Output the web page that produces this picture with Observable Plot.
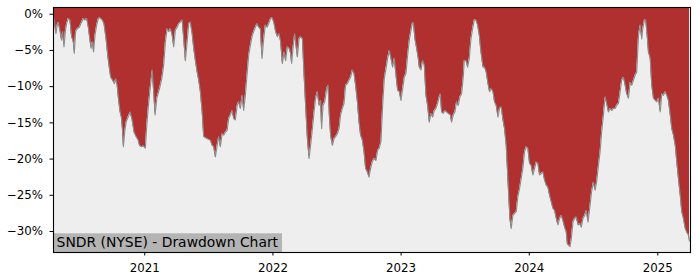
<!DOCTYPE html>
<html><head><meta charset="utf-8">
<script src="https://cdn.jsdelivr.net/npm/d3@7"></script>
<script src="https://cdn.jsdelivr.net/npm/@observablehq/plot@0.6"></script>
<style>
html,body{margin:0;padding:0;background:#fff;}
#chart{width:700px;height:280px;}
</style></head><body><div id="chart"></div>
<script>
// decimal years (date) and drawdown in percent
const years = [
2020.294,2020.309,2020.319,2020.327,2020.340,2020.353,2020.361,2020.372,2020.382,2020.392,
2020.405,2020.418,2020.431,2020.444,2020.452,2020.462,2020.475,2020.491,2020.509,2020.522,
2020.535,2020.548,2020.561,2020.574,2020.582,2020.592,2020.602,2020.613,2020.626,2020.639,
2020.652,2020.670,2020.683,2020.699,2020.712,2020.725,2020.735,2020.750,2020.764,2020.774,
2020.785,2020.795,2020.808,2020.818,2020.826,2020.834,2020.844,2020.855,2020.871,2020.886,
2020.902,2020.917,2020.933,2020.949,2020.959,2020.974,2020.990,2021.005,2021.016,2021.029,
2021.042,2021.058,2021.068,2021.081,2021.094,2021.115,2021.133,2021.148,2021.161,2021.175,
2021.187,2021.200,2021.214,2021.226,2021.239,2021.253,2021.265,2021.278,2021.292,2021.304,
2021.317,2021.331,2021.343,2021.356,2021.370,2021.382,2021.395,2021.409,2021.421,2021.434,
2021.448,2021.460,2021.487,2021.512,2021.526,2021.538,2021.551,2021.565,2021.577,2021.590,
2021.604,2021.616,2021.629,2021.643,2021.655,2021.668,2021.682,2021.694,2021.707,2021.721,
2021.733,2021.746,2021.760,2021.772,2021.785,2021.798,2021.811,2021.824,2021.837,2021.850,
2021.863,2021.876,2021.889,2021.902,2021.915,2021.928,2021.941,2021.954,2021.967,2021.982,
2021.996,2022.009,2022.021,2022.035,2022.048,2022.060,2022.074,2022.087,2022.099,2022.113,
2022.126,2022.138,2022.146,2022.159,2022.170,2022.180,2022.191,2022.204,2022.216,2022.230,
2022.243,2022.255,2022.269,2022.282,2022.294,2022.308,2022.321,2022.333,2022.347,2022.360,
2022.372,2022.380,2022.391,2022.404,2022.419,2022.430,2022.440,2022.450,2022.464,2022.477,
2022.489,2022.503,2022.516,2022.528,2022.542,2022.555,2022.567,2022.581,2022.594,2022.606,
2022.620,2022.633,2022.645,2022.659,2022.672,2022.684,2022.698,2022.711,2022.723,2022.737,
2022.750,2022.762,2022.775,2022.789,2022.804,2022.817,2022.830,2022.843,2022.856,2022.869,
2022.882,2022.895,2022.908,2022.921,2022.934,2022.947,2022.960,2022.973,2022.986,2022.999,
2023.012,2023.025,2023.038,2023.051,2023.064,2023.077,2023.090,2023.097,2023.108,2023.124,
2023.134,2023.142,2023.155,2023.168,2023.181,2023.194,2023.207,2023.220,2023.233,2023.246,
2023.259,2023.272,2023.285,2023.298,2023.306,2023.316,2023.329,2023.342,2023.355,2023.368,
2023.384,2023.394,2023.407,2023.420,2023.433,2023.446,2023.459,2023.472,2023.485,2023.493,
2023.506,2023.519,2023.532,2023.545,2023.558,2023.571,2023.584,2023.597,2023.610,2023.623,
2023.639,2023.651,2023.664,2023.678,2023.690,2023.703,2023.717,2023.729,2023.742,2023.756,
2023.768,2023.781,2023.795,2023.807,2023.820,2023.828,2023.838,2023.849,2023.859,2023.872,
2023.885,2023.898,2023.911,2023.924,2023.937,2023.950,2023.963,2023.976,2023.989,2024.002,
2024.015,2024.028,2024.041,2024.054,2024.067,2024.080,2024.093,2024.106,2024.119,2024.132,
2024.145,2024.158,2024.171,2024.184,2024.197,2024.210,2024.223,2024.236,2024.249,2024.262,
2024.275,2024.288,2024.296,2024.306,2024.317,2024.327,2024.340,2024.353,2024.366,2024.379,
2024.392,2024.405,2024.418,2024.431,2024.444,2024.457,2024.473,2024.485,2024.499,2024.512,
2024.524,2024.538,2024.551,2024.563,2024.577,2024.590,2024.602,2024.616,2024.629,2024.641,
2024.655,2024.668,2024.680,2024.694,2024.707,2024.719,2024.733,2024.746,2024.758,2024.772,
2024.785,2024.797,2024.811,2024.824,2024.836,2024.850,2024.863,2024.875,2024.883,2024.896,
2024.906,2024.917,2024.927,2024.941,2024.953,2024.966,2024.980,2024.992,2025.005,2025.019,
2025.031,2025.044,2025.058,2025.070,2025.083,2025.097,2025.109,2025.122,2025.136,2025.148,
2025.161,2025.175,2025.187,2025.200,2025.214,2025.226,2025.239,2025.247
];
const drawdown = [
-0.6,-2.7,-1.5,-1.1,-2.2,-3.6,-2.4,-4.5,-2.4,-1.3,
-0.6,-0.8,-3.1,-3.8,-5.4,-2.4,-2.0,-1.8,-1.1,-0.6,
-0.8,-0.6,-1.8,-3.6,-4.7,-3.8,-5.2,-2.9,-1.5,-0.6,
-0.5,-0.8,-1.3,-3.4,-5.7,-7.5,-8.7,-9.1,-9.6,-8.9,
-9.8,-11.6,-13.5,-14.2,-15.8,-18.3,-16.3,-14.9,-14.2,-13.5,
-14.6,-16.3,-16.9,-17.4,-18.1,-18.3,-18.2,-18.5,-15.3,-12.6,
-10.3,-7.7,-10.3,-13.9,-11.6,-10.3,-8.9,-7.0,-3.8,-2.0,
-2.4,-2.0,-2.9,-4.5,-2.2,-1.8,-1.3,-1.1,-0.8,-3.4,
-6.4,-3.8,-1.3,-1.1,-2.7,-4.7,-6.4,-8.0,-9.1,-10.7,
-13.5,-16.9,-17.2,-17.4,-18.1,-18.3,-19.7,-18.1,-16.9,-18.3,
-16.5,-16.7,-16.3,-16.0,-14.4,-13.9,-13.3,-14.4,-14.6,-12.6,
-12.1,-13.0,-11.2,-13.3,-11.2,-8.4,-5.7,-4.3,-3.1,-2.4,
-1.8,-1.3,-1.8,-2.0,-6.1,-3.4,-1.5,-1.8,-1.3,-0.6,
-0.5,-1.3,-2.4,-3.1,-2.7,-3.8,-6.8,-5.2,-6.4,-4.5,
-4.7,-5.4,-6.8,-4.3,-2.7,-4.3,-5.9,-3.4,-3.1,-3.4,
-8.4,-12.6,-17.2,-19.9,-18.1,-15.8,-13.5,-11.6,-10.7,-12.6,
-11.9,-15.8,-12.6,-12.1,-10.3,-9.8,-13.9,-16.7,-18.1,-17.2,
-16.9,-16.5,-15.8,-13.9,-13.0,-12.3,-9.8,-9.6,-9.1,-8.7,
-7.7,-8.2,-9.8,-12.1,-14.9,-16.7,-17.4,-19.0,-21.3,-21.8,
-22.5,-21.3,-20.4,-19.9,-20.2,-18.8,-18.5,-17.6,-12.6,-8.9,
-7.5,-6.1,-5.0,-6.1,-7.3,-6.1,-8.4,-10.5,-10.7,-11.9,
-10.3,-8.7,-8.2,-5.7,-3.6,-2.2,-1.1,-1.3,-3.4,-5.0,
-6.1,-7.3,-7.7,-6.4,-7.0,-11.2,-12.6,-14.9,-13.7,-14.2,
-13.3,-13.0,-12.3,-11.4,-11.0,-13.5,-13.7,-13.3,-13.5,-13.7,
-13.9,-14.9,-13.9,-13.5,-12.1,-12.6,-11.4,-11.0,-8.7,-6.4,
-6.4,-7.3,-6.1,-3.4,-2.0,-0.8,-0.8,-1.5,-2.9,-5.2,
-7.3,-7.3,-8.0,-9.6,-10.7,-10.3,-10.7,-12.1,-12.6,-14.2,
-13.0,-12.8,-14.6,-15.8,-18.1,-20.9,-24.5,-28.2,-29.6,-27.8,
-27.5,-27.3,-25.2,-24.1,-22.7,-21.3,-19.0,-18.3,-18.5,-20.6,
-20.9,-22.2,-21.3,-20.4,-20.6,-22.2,-22.0,-21.8,-22.9,-23.6,
-23.9,-25.0,-25.9,-26.8,-27.1,-28.2,-29.1,-28.2,-27.8,-28.5,
-29.4,-30.1,-31.7,-31.9,-32.1,-31.0,-28.7,-28.2,-28.0,-29.1,
-28.9,-29.4,-28.2,-27.8,-27.1,-28.7,-26.4,-24.5,-23.2,-24.3,
-23.2,-20.9,-19.0,-16.3,-13.9,-11.4,-12.3,-13.5,-13.0,-13.3,
-13.0,-13.0,-12.6,-12.3,-10.7,-9.1,-8.7,-9.8,-11.0,-11.6,
-9.4,-9.8,-9.1,-8.4,-8.0,-2.9,-1.5,-3.4,-2.0,-0.8,
-0.8,-2.9,-5.2,-6.1,-9.8,-11.6,-11.9,-12.1,-11.6,-13.5,
-11.0,-11.2,-10.7,-11.2,-11.9,-13.9,-15.8,-16.7,-18.1,-20.4,
-22.7,-25.0,-27.3,-28.2,-29.6,-30.1,-30.5,-31.3
];
const yearTicks = [2021, 2022, 2023, 2024, 2025];
const yTicks = [-30, -25, -20, -15, -10, -5, 0];
const title = "SNDR (NYSE) - Drawdown Chart";
const xRange = [2020.290, 2025.255];
const yRange = [-32.9, 0.93];

function toDate(t) {
  const y = Math.floor(t);
  const a = Date.UTC(y, 0, 1), b = Date.UTC(y + 1, 0, 1);
  return new Date(a + (t - y) * (b - a));
}
const data = years.map((t, i) => ({date: toDate(t), dd: drawdown[i]}));

const W = 700, H = 280, ML = 53, MR = 10, MT = 7, MB = 28;

const chart = Plot.plot({
  width: W, height: H,
  marginLeft: ML, marginRight: MR, marginTop: MT, marginBottom: MB,
  style: {fontFamily: "'DejaVu Sans', sans-serif", fontSize: "11.8px", color: "#000", background: "#fff"},
  x: {type: "utc", domain: xRange.map(toDate)},
  y: {domain: yRange},
  marks: [
    Plot.frame({fill: "#eeeeee"}),
    Plot.areaY(data, {x: "date", y1: () => yRange[1], y2: "dd", fill: "#b03030", clip: true}),
    Plot.lineY(data, {x: "date", y: "dd", stroke: "#8c8c8c", strokeWidth: 1.1, clip: true}),
    Plot.axisX({ticks: yearTicks.map(y => new Date(Date.UTC(y, 0, 1))), tickFormat: d3.utcFormat("%Y"),
      tickSize: 3.5, tickPadding: 7.5, label: null, stroke: "#000"}),
    Plot.axisY({ticks: yTicks, tickFormat: d => (d < 0 ? "\u2212" : "") + Math.abs(d) + "%",
      tickSize: 3.5, tickPadding: 7, label: null, stroke: "#000"}),
    Plot.frame({stroke: "#000", strokeWidth: 1.1})
  ]
});
document.getElementById("chart").appendChild(chart);

// title label box at bottom-left inside the plot frame
const g = document.createElementNS("http://www.w3.org/2000/svg", "g");
chart.insertBefore(g, chart.lastChild);
const gs = d3.select(g).attr("text-anchor", "start");
const rect = gs.append("rect").attr("fill", "#b4b4b4");
const txt = gs.append("text")
  .attr("x", ML + 3.6).attr("y", H - MB - 5.4)
  .attr("text-anchor", "start")
  .style("text-anchor", "start")
  .attr("font-family", "'DejaVu Sans', sans-serif")
  .attr("font-size", "13.9px").attr("fill", "#000")
  .text(title);
const bb = txt.node().getBBox();
rect.attr("x", ML).attr("y", bb.y - 0.3)
  .attr("width", bb.x + bb.width + 3.4 - ML)
  .attr("height", H - MB - (bb.y - 0.3));
</script></body></html>
